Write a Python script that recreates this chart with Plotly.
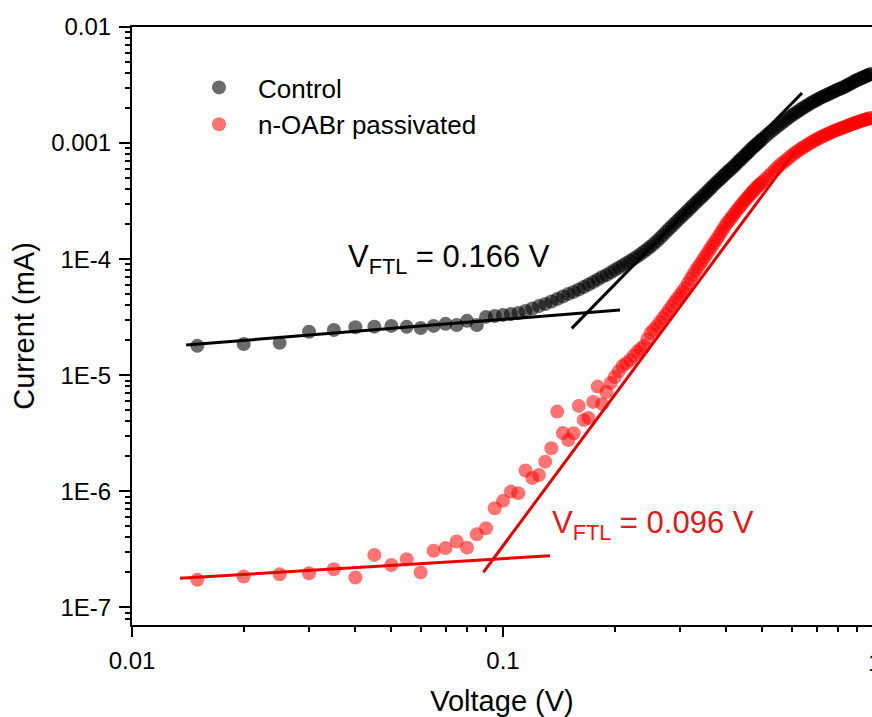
import plotly.graph_objects as go

# Voltage sweep (V)
voltage = [
    0.015, 0.02, 0.025, 0.03, 0.035, 0.04, 0.045, 0.05, 0.055, 0.06,
    0.065, 0.07, 0.075, 0.08, 0.085, 0.09, 0.095, 0.10, 0.105, 0.11,
    0.115, 0.12, 0.125, 0.13, 0.135, 0.14, 0.145, 0.15, 0.155, 0.16,
    0.165, 0.17, 0.175, 0.18, 0.185, 0.19, 0.195, 0.20,
    0.205, 0.21, 0.215, 0.22, 0.225, 0.23, 0.235, 0.24, 0.245, 0.25,
    0.255, 0.26, 0.265, 0.27, 0.275, 0.28, 0.285, 0.29, 0.295, 0.30,
    0.305, 0.31, 0.315, 0.32, 0.325, 0.33, 0.335, 0.34, 0.345, 0.35,
    0.355, 0.36, 0.365, 0.37, 0.375, 0.38, 0.385, 0.39, 0.395, 0.40,
    0.405, 0.41, 0.415, 0.42, 0.425, 0.43, 0.435, 0.44, 0.445, 0.45,
    0.455, 0.46, 0.465, 0.47, 0.475, 0.48, 0.485, 0.49, 0.495, 0.50,
    0.51, 0.52, 0.53, 0.54, 0.55, 0.56, 0.57, 0.58, 0.59, 0.60,
    0.61, 0.62, 0.63, 0.64, 0.65, 0.66, 0.67, 0.68, 0.69, 0.70,
    0.71, 0.72, 0.73, 0.74, 0.75, 0.76, 0.77, 0.78, 0.79, 0.80,
    0.81, 0.82, 0.83, 0.84, 0.85, 0.86, 0.87, 0.88, 0.89, 0.90,
    0.91, 0.92, 0.93, 0.94, 0.95, 0.96, 0.97, 0.98, 0.99, 1.00,
]

# Current (mA) of the control device
current_control = [
    1.79e-5, 1.86e-5, 1.90e-5, 2.37e-5, 2.45e-5, 2.59e-5, 2.62e-5, 2.66e-5, 2.61e-5, 2.55e-5,
    2.66e-5, 2.77e-5, 2.71e-5, 2.94e-5, 2.71e-5, 3.18e-5, 3.24e-5, 3.31e-5, 3.37e-5, 3.44e-5,
    3.58e-5, 3.76e-5, 3.95e-5, 4.11e-5, 4.32e-5, 4.54e-5, 4.77e-5, 5.02e-5, 5.22e-5, 5.48e-5,
    5.76e-5, 6.05e-5, 6.36e-5, 6.69e-5, 7.03e-5, 7.31e-5, 7.68e-5, 8.07e-5,
    8.44e-5, 8.82e-5, 9.22e-5, 9.65e-5, 1.009e-4, 1.055e-4, 1.109e-4, 1.165e-4, 1.224e-4, 1.286e-4,
    1.358e-4, 1.435e-4, 1.523e-4, 1.616e-4, 1.715e-4, 1.82e-4, 1.922e-4, 2.03e-4, 2.142e-4, 2.26e-4,
    2.377e-4, 2.50e-4, 2.627e-4, 2.76e-4, 2.901e-4, 3.05e-4, 3.187e-4, 3.33e-4, 3.482e-4, 3.64e-4,
    3.806e-4, 3.98e-4, 4.166e-4, 4.36e-4, 4.537e-4, 4.72e-4, 4.906e-4, 5.10e-4, 5.311e-4, 5.53e-4,
    5.722e-4, 5.92e-4, 6.131e-4, 6.35e-4, 6.605e-4, 6.87e-4, 7.116e-4, 7.37e-4, 7.631e-4, 7.90e-4,
    8.18e-4, 8.47e-4, 8.765e-4, 9.07e-4, 9.346e-4, 9.63e-4, 9.921e-4, 1.022e-3, 1.053e-3, 1.085e-3,
    1.146e-3, 1.21e-3, 1.271e-3, 1.335e-3, 1.396e-3, 1.46e-3, 1.527e-3, 1.597e-3, 1.662e-3, 1.729e-3,
    1.79e-3, 1.853e-3, 1.918e-3, 1.986e-3, 2.046e-3, 2.108e-3, 2.172e-3, 2.237e-3, 2.293e-3, 2.35e-3,
    2.409e-3, 2.47e-3, 2.52e-3, 2.57e-3, 2.622e-3, 2.675e-3, 2.727e-3, 2.78e-3, 2.836e-3, 2.894e-3,
    2.937e-3, 2.98e-3, 3.04e-3, 3.10e-3, 3.165e-3, 3.23e-3, 3.295e-3, 3.36e-3, 3.424e-3, 3.49e-3,
    3.545e-3, 3.60e-3, 3.655e-3, 3.71e-3, 3.765e-3, 3.82e-3, 3.88e-3, 3.94e-3, 4.00e-3, 4.06e-3,
]

# Current (mA) of the n-OABr passivated device
current_passivated = [
    1.73e-7, 1.84e-7, 1.93e-7, 1.97e-7, 2.13e-7, 1.81e-7, 2.83e-7, 2.32e-7, 2.60e-7, 2.00e-7,
    3.07e-7, 3.24e-7, 3.69e-7, 3.27e-7, 4.27e-7, 4.81e-7, 7.15e-7, 8.27e-7, 9.94e-7, 9.63e-7,
    1.51e-6, 1.30e-6, 1.38e-6, 1.80e-6, 2.35e-6, 4.86e-6, 3.18e-6, 2.77e-6, 3.16e-6, 5.44e-6,
    4.12e-6, 4.29e-6, 5.89e-6, 7.98e-6, 5.66e-6, 7.18e-6, 8.59e-6, 9.67e-6,
    1.08e-5, 1.20e-5, 1.27e-5, 1.35e-5, 1.47e-5, 1.59e-5, 1.69e-5, 1.79e-5, 2.05e-5, 2.31e-5,
    2.48e-5, 2.66e-5, 2.88e-5, 3.11e-5, 3.37e-5, 3.65e-5, 3.95e-5, 4.28e-5, 4.59e-5, 4.92e-5,
    5.27e-5, 5.65e-5, 6.18e-5, 6.75e-5, 7.31e-5, 7.91e-5, 8.48e-5, 9.09e-5, 9.74e-5, 1.044e-4,
    1.119e-4, 1.20e-4, 1.28e-4, 1.365e-4, 1.456e-4, 1.553e-4, 1.657e-4, 1.767e-4, 1.885e-4, 2.01e-4,
    2.112e-4, 2.22e-4, 2.332e-4, 2.45e-4, 2.577e-4, 2.71e-4, 2.832e-4, 2.96e-4, 3.097e-4, 3.24e-4,
    3.367e-4, 3.50e-4, 3.642e-4, 3.79e-4, 3.923e-4, 4.06e-4, 4.207e-4, 4.36e-4, 4.488e-4, 4.62e-4,
    4.91e-4, 5.21e-4, 5.53e-4, 5.86e-4, 6.19e-4, 6.54e-4, 6.84e-4, 7.15e-4, 7.48e-4, 7.82e-4,
    8.14e-4, 8.47e-4, 8.77e-4, 9.07e-4, 9.35e-4, 9.63e-4, 9.92e-4, 1.022e-3, 1.048e-3, 1.074e-3,
    1.101e-3, 1.128e-3, 1.151e-3, 1.174e-3, 1.198e-3, 1.222e-3, 1.246e-3, 1.27e-3, 1.29e-3, 1.31e-3,
    1.329e-3, 1.349e-3, 1.369e-3, 1.39e-3, 1.411e-3, 1.432e-3, 1.453e-3, 1.475e-3, 1.49e-3, 1.504e-3,
    1.527e-3, 1.55e-3, 1.565e-3, 1.58e-3, 1.597e-3, 1.613e-3, 1.629e-3, 1.645e-3, 1.661e-3, 1.678e-3,
]

# Linear fits (in log-log) of the ohmic and trap-filling regions
control_ohmic_v = [0.0140, 0.2067]
control_ohmic_i = [1.82e-5, 3.65e-5]
control_tfl_v = [0.1532, 0.6397]
control_tfl_i = [2.53e-5, 2.70e-3]
passivated_ohmic_v = [0.01347, 0.1338]
passivated_ohmic_i = [1.78e-7, 2.78e-7]
passivated_tfl_v = [0.0885, 0.6164]
passivated_tfl_i = [2.0e-7, 8.72e-4]

vftl_control = "0.166"
vftl_passivated = "0.096"

x_tickvals = [0.01, 0.1]
x_ticktext = ["0.01", "0.1"]
x_minor = [0.02, 0.03, 0.04, 0.05, 0.06, 0.07, 0.08, 0.09,
           0.2, 0.3, 0.4, 0.5, 0.6, 0.7, 0.8, 0.9]
y_tickvals = [1e-2, 1e-3, 1e-4, 1e-5, 1e-6, 1e-7]
y_ticktext = ["0.01", "0.001", "1E-4", "1E-5", "1E-6", "1E-7"]
y_minor = [m * 10.0 ** e for e in range(-8, -2) for m in range(2, 10)]

FONT = "Arial, 'Liberation Sans', sans-serif"
RED = "rgb(255,0,0)"
RED_TEXT = "rgb(228,24,24)"

fig = go.Figure()

fig.add_trace(go.Scatter(
    x=voltage, y=current_control, mode="markers", name="Control",
    marker=dict(size=14, color="black", opacity=0.58, line=dict(width=0)),
    cliponaxis=False,
))
fig.add_trace(go.Scatter(
    x=voltage, y=current_passivated, mode="markers", name="n-OABr passivated",
    marker=dict(size=14, color=RED, opacity=0.55, line=dict(width=0)),
    cliponaxis=False,
))

for xs, ys, col in [
    (control_ohmic_v, control_ohmic_i, "black"),
    (control_tfl_v, control_tfl_i, "black"),
    (passivated_ohmic_v, passivated_ohmic_i, "rgb(235,0,0)"),
    (passivated_tfl_v, passivated_tfl_i, "rgb(235,0,0)"),
]:
    fig.add_trace(go.Scatter(
        x=xs, y=ys, mode="lines", showlegend=False,
        line=dict(color=col, width=3),
    ))

fig.add_annotation(
    xref="paper", yref="paper", x=(346 - 132) / 740, y=(625 - 259) / 598,
    xanchor="left", yanchor="middle", showarrow=False,
    text=f"V<sub>FTL</sub> = {vftl_control} V",
    font=dict(family=FONT, size=31, color="black"),
)
fig.add_annotation(
    xref="paper", yref="paper", x=(550 - 132) / 740, y=(625 - 525) / 598,
    xanchor="left", yanchor="middle", showarrow=False,
    text=f"V<sub>FTL</sub> = {vftl_passivated} V",
    font=dict(family=FONT, size=31, color=RED_TEXT),
)
# tick label for V = 1 sits on the right border of the frame
fig.add_annotation(
    xref="paper", yref="paper", x=(874 - 132) / 740, y=(625 - 662) / 598,
    xanchor="center", yanchor="middle", showarrow=False,
    text="1", font=dict(family=FONT, size=24, color="black"),
)

fig.update_layout(
    width=872, height=717,
    margin=dict(l=132, r=0, t=27, b=92),
    paper_bgcolor="white", plot_bgcolor="white",
    font=dict(family=FONT, color="black"),
    showlegend=True,
    legend=dict(
        x=(180 - 132) / 740, y=(625 - 64) / 598, xanchor="left", yanchor="top",
        font=dict(family=FONT, size=26, color="black"),
        bgcolor="rgba(0,0,0,0)", itemwidth=68, tracegroupgap=0,
    ),
    xaxis=dict(
        type="log", range=[-2, -0.00539],
        showline=True, linewidth=2, linecolor="black", mirror=True,
        showgrid=False, zeroline=False,
        ticks="outside", ticklen=10, tickwidth=2, tickcolor="black",
        tickmode="array", tickvals=x_tickvals, ticktext=x_ticktext,
        tickfont=dict(family=FONT, size=24, color="black"),
        ticklabelstandoff=3,
        minor=dict(tickmode="array", tickvals=x_minor, ticks="outside",
                   ticklen=5, tickwidth=1.5, tickcolor="black", showgrid=False),
        title=dict(text="Voltage (V)", font=dict(family=FONT, size=29, color="black"),
                   standoff=20),
    ),
    yaxis=dict(
        type="log", range=[-7.152, -2],
        showline=True, linewidth=2, linecolor="black",
        showgrid=False, zeroline=False,
        ticks="outside", ticklen=11, tickwidth=2, tickcolor="black",
        tickmode="array", tickvals=y_tickvals, ticktext=y_ticktext,
        tickfont=dict(family=FONT, size=24, color="black"),
        ticklabelstandoff=3,
        minor=dict(tickmode="array", tickvals=y_minor, ticks="outside",
                   ticklen=5, tickwidth=1.5, tickcolor="black", showgrid=False),
        title=dict(text="Current (mA)", font=dict(family=FONT, size=29, color="black"),
                   standoff=8),
    ),
)

fig.write_html("out.html")
